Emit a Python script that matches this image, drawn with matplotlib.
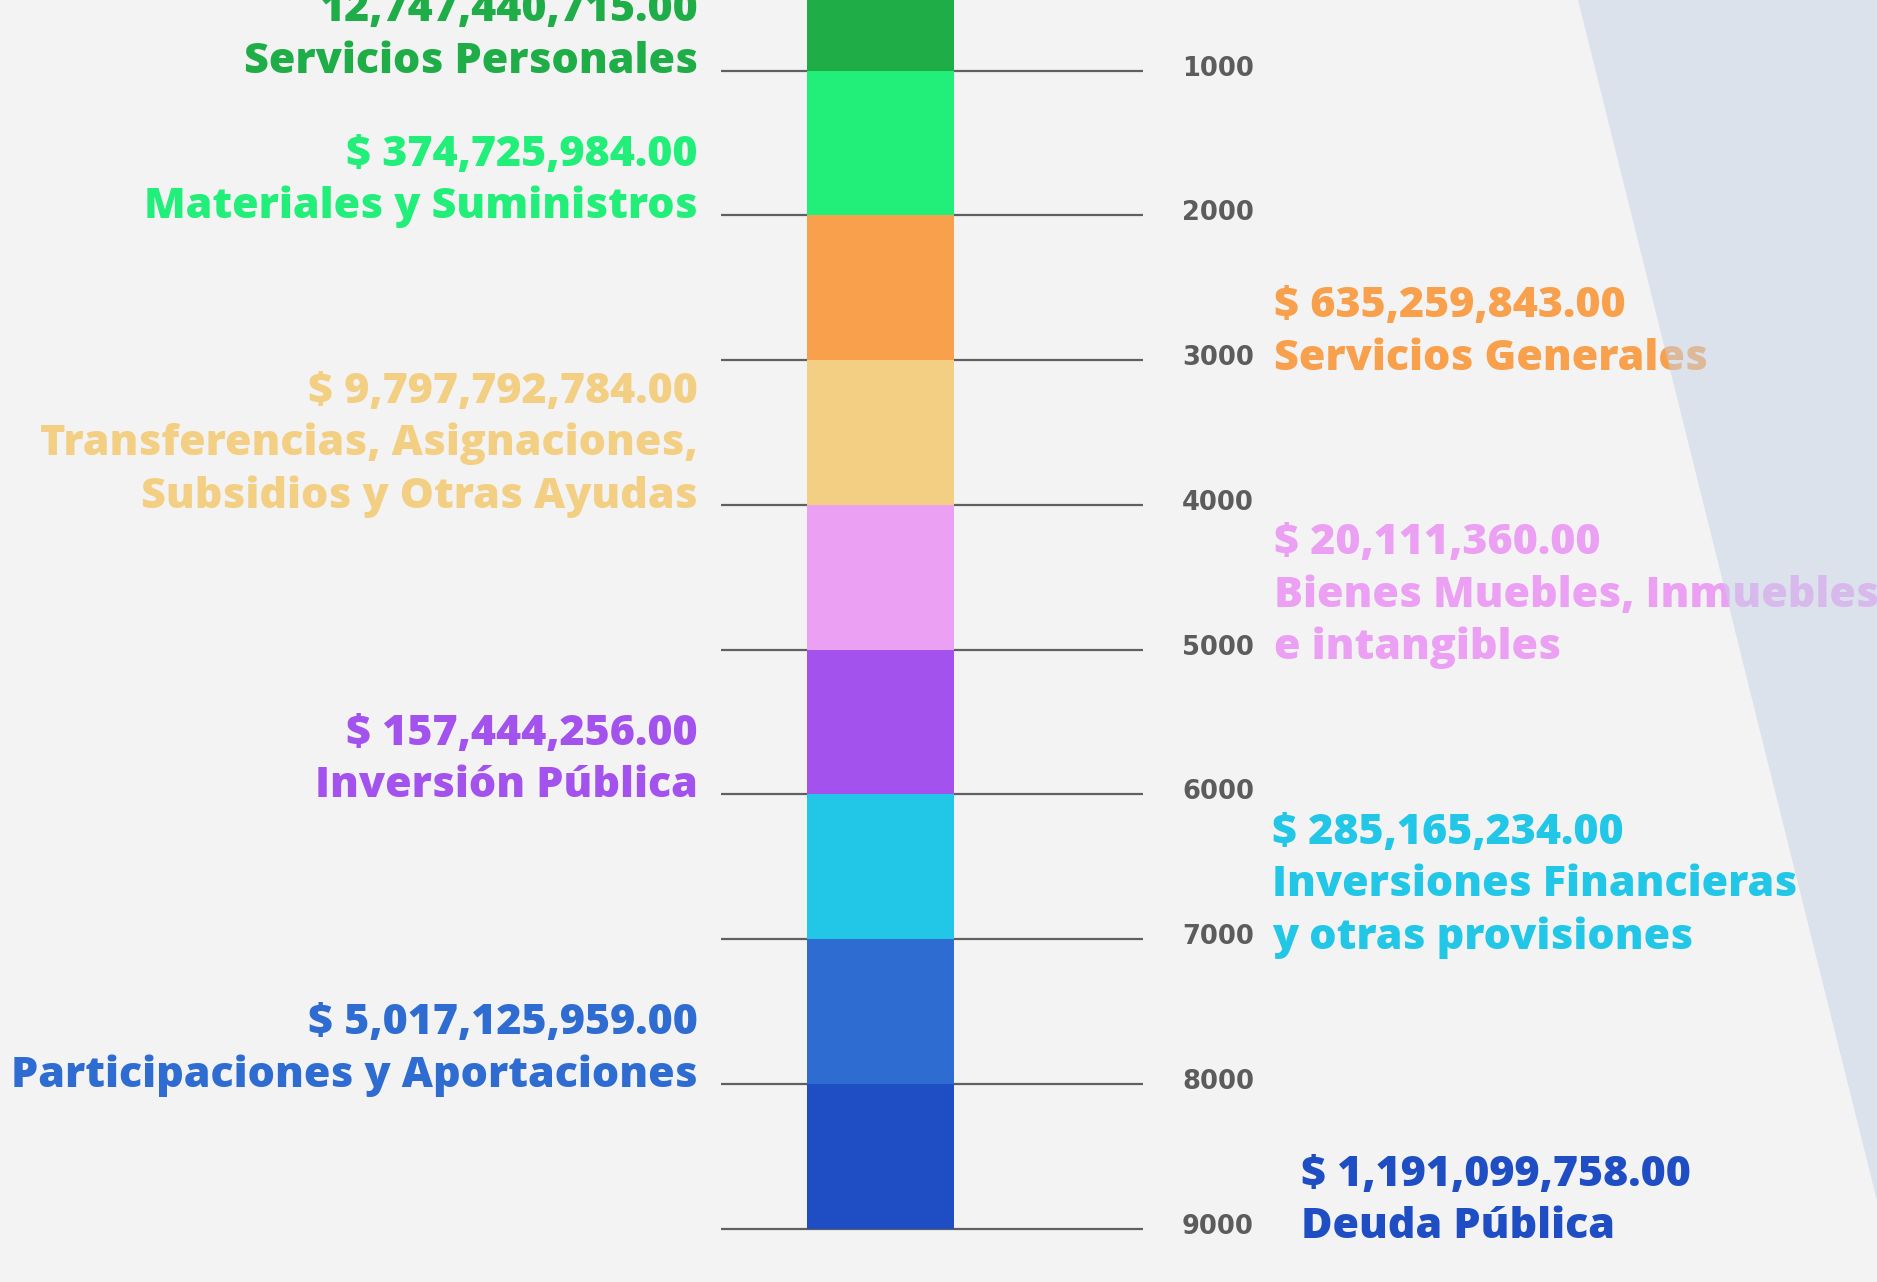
import matplotlib.pyplot as plt
from matplotlib.patches import Polygon

# capitulos del gasto
codes = [1000, 2000, 3000, 4000, 5000, 6000, 7000, 8000, 9000]
names = ['Servicios Personales',
         'Materiales y Suministros',
         'Servicios Generales',
         'Transferencias, Asignaciones,\nSubsidios y Otras Ayudas',
         'Bienes Muebles, Inmuebles\ne intangibles',
         'Inversión Pública',
         'Inversiones Financieras\ny otras provisiones',
         'Participaciones y Aportaciones',
         'Deuda Pública']
amounts = ['12,747,440,715.00', '$ 374,725,984.00', '$ 635,259,843.00',
           '$ 9,797,792,784.00', '$ 20,111,360.00', '$ 157,444,256.00',
           '$ 285,165,234.00', '$ 5,017,125,959.00', '$ 1,191,099,758.00']
colors = ['#1fad48', '#22ee7a', '#f8a04c', '#f3cf84', '#eba0f3',
          '#a352ee', '#22c6e6', '#2e6cd1', '#1f4ec4']

# layout (pixel units on the x axis)
side = ['L', 'L', 'R', 'L', 'R', 'L', 'R', 'L', 'R']
text_x = {'L': 698, 'R': 1274}
x_fix = {6: 1272, 8: 1301}
bar_x, bar_w = 880.5, 147
line_x0, line_x1 = 721, 1143
tick_x = 1182
step = 1000

W, H = 1877, 1282
fig = plt.figure(figsize=(W / 100, H / 100), dpi=100)
fig.patch.set_facecolor('#f3f3f3')
ax = fig.add_axes([0, 0, 1, 1])
ax.set_facecolor('#f3f3f3')
ax.set_xlim(0, W)
ax.set_ylim(9369, 512)
ax.axis('off')

ax.hlines(codes, line_x0, line_x1, color='#606060', lw=1.6, zorder=1)
for c, col in zip(codes, colors):
    ax.bar(bar_x, step, bottom=c - step, width=bar_w, color=col, zorder=2)
    ax.annotate(str(c), (tick_x, c), xytext=(0, 1.5), textcoords='offset points',
                ha='left', va='center', fontsize=18.5,
                fontweight='bold', color='#5c5c5c', family='DejaVu Sans')

line_h = 52.5 * 0.72  # px -> pt
for i, (c, nm, am, col) in enumerate(zip(codes, names, amounts, colors)):
    s = side[i]
    x = x_fix.get(i, text_x[s])
    lines = [am] + nm.split('\n')
    base = -2 if s == 'L' else -7  # pt below the line
    ha = 'right' if s == 'L' else 'left'
    for k, t in enumerate(reversed(lines)):
        ax.annotate(t, (x, c), xytext=(0, base + k * line_h),
                    textcoords='offset points', ha=ha, va='baseline',
                    fontsize=31, fontweight=800, color=col,
                    family='Open Sans', zorder=3)

# franja decorativa
poly = Polygon([(1578 / W, 1), (1, 1), (1, 1 - 1201 / H)], closed=True,
               transform=ax.transAxes, facecolor='#c6d3e6', alpha=0.5,
               edgecolor='none', zorder=5)
ax.add_patch(poly)

plt.savefig('out.png', dpi=100, facecolor=fig.get_facecolor())
